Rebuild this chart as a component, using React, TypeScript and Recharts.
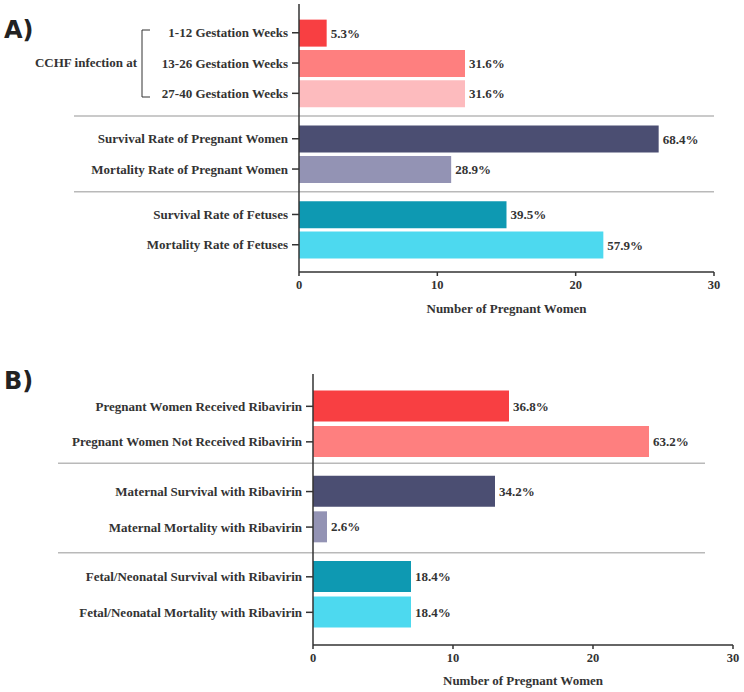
import { BarChart, Bar, XAxis, YAxis, Cell, LabelList, ReferenceLine } from 'recharts';

// ---- panel A data ----
const categoriesA = [
  '1-12 Gestation Weeks',
  '13-26 Gestation Weeks',
  '27-40 Gestation Weeks',
  'Survival Rate of Pregnant Women',
  'Mortality Rate of Pregnant Women',
  'Survival Rate of Fetuses',
  'Mortality Rate of Fetuses',
];
const countsA = [2, 12, 12, 26, 11, 15, 22];
const percentA = ['5.3%', '31.6%', '31.6%', '68.4%', '28.9%', '39.5%', '57.9%'];

// ---- panel B data ----
const categoriesB = [
  'Pregnant Women Received Ribavirin',
  'Pregnant Women Not Received Ribavirin',
  'Maternal Survival with Ribavirin',
  'Maternal Mortality with Ribavirin',
  'Fetal/Neonatal Survival with Ribavirin',
  'Fetal/Neonatal Mortality with Ribavirin',
];
const countsB = [14, 24, 13, 1, 7, 7];
const percentB = ['36.8%', '63.2%', '34.2%', '2.6%', '18.4%', '18.4%'];

const xTicks = [0, 10, 20, 30];
const xTitle = 'Number of Pregnant Women';

// row slots on the category axis (groups sit 1.5 rows apart)
const slotsA = [0, 1, 2, 3.5, 4.5, 6, 7];
const dividersA = [2.75, 5.25];
const slotsB = [0, 1, 2.4, 3.4, 4.8, 5.8];
const dividersB = [1.6, 4.12];

const COLORS_A = ['#f83f42', '#fe7f7f', '#fdbbbe', '#4b4e72', '#9393b4', '#0e99b2', '#4dd9ef'];
const COLORS_B = ['#f83f42', '#fe7f7f', '#4b4e72', '#9393b4', '#0e99b2', '#4dd9ef'];

const SERIF = '"Liberation Serif", "Times New Roman", serif';
const INK = '#333';

type PanelProps = {
  top: number;
  height: number;
  categories: string[];
  counts: number[];
  percents: string[];
  slots: number[];
  dividers: number[];
  colors: string[];
  domain: [number, number];
  barSize: number;
  margin: { top: number; right: number; bottom: number; left: number };
  yWidth: number;
  xHeight: number;
  titleOffset: number;
  divLeft: number;
  divRightTrim: number;
};

function Panel(p: PanelProps) {
  const rows = p.categories.map((name, i) => ({
    name,
    slot: p.slots[i],
    value: p.counts[i],
    pct: p.percents[i],
  }));

  return (
    <div style={{ position: 'absolute', left: 0, top: p.top }}>
      <BarChart width={744} height={p.height} data={rows} layout="vertical" margin={p.margin}>
        <XAxis
          type="number"
          domain={[0, 30]}
          ticks={xTicks}
          allowDataOverflow
          stroke={INK}
          strokeWidth={1.5}
          tickSize={4}
          tickMargin={4}
          tick={{ fill: INK, fontSize: 12.5, fontWeight: 700, fontFamily: SERIF }}
          height={p.xHeight}
          label={{
            value: xTitle,
            position: 'insideBottom',
            offset: p.titleOffset,
            style: { fill: INK, fontSize: 13, fontWeight: 700, fontFamily: SERIF },
          }}
        />
        <YAxis
          type="number"
          dataKey="slot"
          domain={p.domain}
          allowDataOverflow
          ticks={p.slots}
          interval={0}
          tickFormatter={(v: number) => p.categories[p.slots.indexOf(v)] ?? ''}
          width={p.yWidth}
          stroke={INK}
          strokeWidth={1.5}
          tickSize={7}
          tickMargin={4}
          tick={{ fill: INK, fontSize: 13, fontWeight: 700, fontFamily: SERIF }}
        />
        {p.dividers.map((d) => (
          <ReferenceLine
            key={d}
            y={d}
            ifOverflow="visible"
            shape={(s: any) => (
              <line
                x1={p.divLeft}
                y1={s.y1}
                x2={s.x2 - p.divRightTrim}
                y2={s.y2}
                stroke="#b9b9b9"
                strokeWidth={1.5}
              />
            )}
          />
        ))}
        <Bar dataKey="value" barSize={p.barSize} isAnimationActive={false}>
          {rows.map((r, i) => (
            <Cell key={r.name} fill={p.colors[i]} />
          ))}
          <LabelList
            dataKey="pct"
            position="right"
            offset={4}
            fill={INK}
            style={{ fontSize: 13, fontWeight: 700, fontFamily: SERIF }}
          />
        </Bar>
      </BarChart>
    </div>
  );
}

export default function App() {
  return (
    <div
      style={{
        position: 'absolute',
        left: 0,
        top: 0,
        width: 744,
        height: 692,
        background: '#fff',
        overflow: 'hidden',
      }}
    >
      <Panel
        top={0}
        height={340}
        categories={categoriesA}
        counts={countsA}
        percents={percentA}
        slots={slotsA}
        dividers={dividersA}
        colors={COLORS_A}
        domain={[-0.95, 7.9]}
        barSize={27}
        margin={{ top: 4, right: 30, bottom: 18, left: 9 }}
        yWidth={290}
        xHeight={50}
        titleOffset={9}
        divLeft={74}
        divRightTrim={0}
      />
      <Panel
        top={340}
        height={352}
        categories={categoriesB}
        counts={countsB}
        percents={percentB}
        slots={slotsB}
        dividers={dividersB}
        colors={COLORS_B}
        domain={[-0.91, 6.72]}
        barSize={31}
        margin={{ top: 34, right: 11, bottom: 7, left: 13 }}
        yWidth={300}
        xHeight={40}
        titleOffset={0}
        divLeft={58}
        divRightTrim={28}
      />
      <svg
        width={744}
        height={692}
        style={{ position: 'absolute', left: 0, top: 0, pointerEvents: 'none' }}
      >
        <text x={4} y={38} fontFamily='"DejaVu Sans", sans-serif' fontWeight={700} fontSize={24} fill="#222">
          A)
        </text>
        <text x={4} y={389} fontFamily='"DejaVu Sans", sans-serif' fontWeight={700} fontSize={24} fill="#222">
          B)
        </text>
        <path d="M150 30 H142 V97 H150" fill="none" stroke={INK} strokeWidth={1} />
        <text
          x={137}
          y={66.5}
          textAnchor="end"
          fontFamily={SERIF}
          fontWeight={700}
          fontSize={13}
          fill={INK}
        >
          CCHF infection at
        </text>
      </svg>
    </div>
  );
}
